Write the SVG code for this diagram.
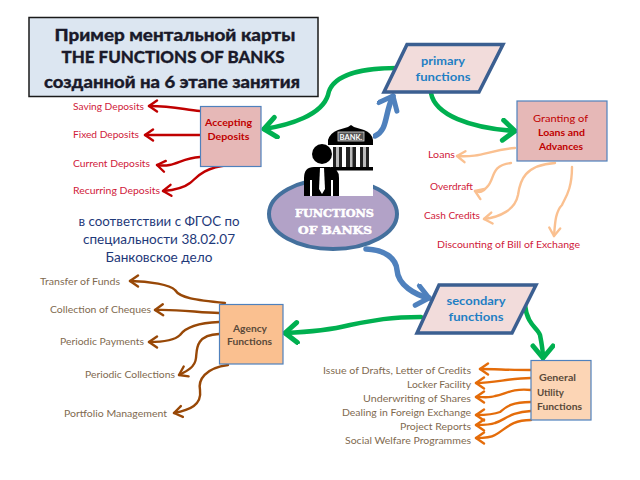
<svg xmlns="http://www.w3.org/2000/svg" width="640" height="480" viewBox="0 0 640 480">
<style>
text{font-family:Lato,"Liberation Sans",sans-serif}
.c{fill:none;stroke-linecap:round;stroke-linejoin:round}
.g{stroke:#00b050;stroke-width:4.500}
.b{stroke:#4f81bd;stroke-width:5.500}
.r{stroke:#c00000;stroke-width:2.400}
.p{stroke:#fac090;stroke-width:2.400}
.w{stroke:#984807;stroke-width:2.400}
.o{stroke:#e46c0a;stroke-width:2.400}
.para{fill:#f2dcdb;stroke:#3b5f91;stroke-width:3.500;stroke-linejoin:miter}
.box{stroke:#4f81bd;stroke-width:1.200}
.pt{font-size:12px;font-weight:700;fill:#1f7fc4;text-anchor:middle}
.rl{font-size:9.500px;fill:#d0203a}
.rb{font-size:9.500px;font-weight:700;fill:#c00000;text-anchor:middle}
.gr{font-size:9.500px;fill:#7f6a50}
.gb{font-size:9.500px;font-weight:700;fill:#5a4a3a}
.tt{font-size:17px;font-weight:900;fill:#1a1a2a;stroke:#1a1a2a;stroke-width:.3;text-anchor:middle}
.mid{font-size:12.500px;fill:#1f3a7a;text-anchor:middle}
.fn{font-family:"DejaVu Serif",serif;font-size:11px;font-weight:700;fill:#fff;stroke:#fff;stroke-width:.5;text-anchor:middle}
</style>
<defs>
<marker id="mg" markerUnits="userSpaceOnUse" markerWidth="28" markerHeight="28" refX="20" refY="12" orient="auto"><path d="M8 2 L20 12 L8 22" fill="none" stroke="#00b050" stroke-width="5" stroke-linecap="round" stroke-linejoin="round"/></marker>
<marker id="mb" markerUnits="userSpaceOnUse" markerWidth="28" markerHeight="28" refX="20" refY="12" orient="auto"><path d="M8 2 L20 12 L8 22" fill="none" stroke="#4f81bd" stroke-width="5" stroke-linecap="round" stroke-linejoin="round"/></marker>
<marker id="mr" markerUnits="userSpaceOnUse" markerWidth="16" markerHeight="16" refX="11" refY="7" orient="auto"><path d="M3 1.500 L11 7 L3 12.500" fill="none" stroke="#c00000" stroke-width="2.400" stroke-linecap="round" stroke-linejoin="round"/></marker>
<marker id="mp" markerUnits="userSpaceOnUse" markerWidth="16" markerHeight="16" refX="11" refY="7" orient="auto"><path d="M3 1.500 L11 7 L3 12.500" fill="none" stroke="#fac090" stroke-width="2.400" stroke-linecap="round" stroke-linejoin="round"/></marker>
<marker id="mw" markerUnits="userSpaceOnUse" markerWidth="16" markerHeight="16" refX="11" refY="7" orient="auto"><path d="M3 1.500 L11 7 L3 12.500" fill="none" stroke="#984807" stroke-width="2.400" stroke-linecap="round" stroke-linejoin="round"/></marker>
<marker id="mo" markerUnits="userSpaceOnUse" markerWidth="16" markerHeight="16" refX="11" refY="7" orient="auto"><path d="M3 1.500 L11 7 L3 12.500" fill="none" stroke="#e46c0a" stroke-width="2.400" stroke-linecap="round" stroke-linejoin="round"/></marker>
</defs>
<rect width="640" height="480" fill="#fff"/>

<g id="connectors">
<g class="c g">
<path marker-end="url(#mg)" d="M397 68 C370 68 332 72 328 95 C322 115 290 125 264 129"/>
<path marker-end="url(#mg)" d="M431 93 C435 115 470 128 515 131"/>
<path marker-end="url(#mg)" d="M421 317 C390 317 375 320 350 325 C330 330 310 332 285 333"/>
<path marker-end="url(#mg)" d="M525 305 C527 325 538 328 540 335 C542 345 543 350 543 358"/>
</g>
<g class="c b">
<path marker-end="url(#mb)" d="M375 136 C388 130 384 115 393 96"/>
<path marker-end="url(#mb)" d="M366 249 C385 250 396 258 397 270 C398 285 415 295 429 298"/>
</g>
<g class="c r">
<path marker-end="url(#mr)" d="M200 111 C185 110 175 106 149 106"/>
<path marker-end="url(#mr)" d="M200 135 L145 135"/>
<path marker-end="url(#mr)" d="M200 157 C180 158 175 168 157 165"/>
<path marker-end="url(#mr)" d="M229 165 C200 168 195 180 190 183 C185 187 175 190 163 191"/>
</g>
<g class="c p">
<path marker-end="url(#mp)" d="M515 148 C490 150 480 158 457 156"/>
<path marker-end="url(#mp)" d="M511 163 C490 165 495 180 487 187 C483 192 480 193 475 191"/>
<path marker-end="url(#mp)" d="M555 163 C525 165 520 180 518 195 C515 210 500 217 484 219"/>
<path marker-end="url(#mp)" d="M572 167 C572 190 565 198 562 205 C555 212 555 225 554 236"/>
</g>
<g class="c w">
<path marker-end="url(#mw)" d="M225 303 C195 300 180 298 175 290 C170 285 150 281 130 281"/>
<path marker-end="url(#mw)" d="M219 313 C200 313 180 309 155 310"/>
<path marker-end="url(#mw)" d="M219 322 C195 323 185 328 180 335 C175 340 165 342 149 342"/>
<path marker-end="url(#mw)" d="M219 334 C195 335 197 350 196 358 C195 368 185 372 179 375"/>
<path marker-end="url(#mw)" d="M228 365 C205 368 198 380 200 390 C202 405 190 410 174 413"/>
</g>
<g class="c o">
<path marker-end="url(#mo)" d="M531 370 C510 370 495 369 480 369"/>
<path marker-end="url(#mo)" d="M531 378 C510 378 495 383 476 383"/>
<path marker-end="url(#mo)" d="M531 390 C510 388 505 395 495 396 C490 398 485 397 476 397"/>
<path marker-end="url(#mo)" d="M531 402 C510 402 505 408 500 412 C495 414 485 415 476 415"/>
<path marker-end="url(#mo)" d="M531 411 C510 412 505 420 495 423 C490 425 482 425 476 425"/>
<path marker-end="url(#mo)" d="M531 420 C510 420 505 430 495 435 C490 438 483 438 476 438"/>
</g>
</g>

<g id="title">
<rect x="29" y="17.500" width="289" height="79" fill="#dce6f1" stroke="#1a1a1a" stroke-width="1.500"/>
<text class="tt" x="175" y="41" textLength="241" lengthAdjust="spacingAndGlyphs">Пример ментальной  карты</text>
<text class="tt" x="173" y="63" textLength="223" lengthAdjust="spacingAndGlyphs">THE FUNCTIONS OF BANKS</text>
<text class="tt" x="172" y="88" textLength="256" lengthAdjust="spacingAndGlyphs">созданной на 6 этапе занятия</text>
</g>

<g id="standard-note">
<text class="mid" x="159" y="226" textLength="161" lengthAdjust="spacingAndGlyphs">в соответствии с ФГОС  по</text>
<text class="mid" x="159" y="244" textLength="152" lengthAdjust="spacingAndGlyphs">специальности 38.02.07</text>
<text class="mid" x="159" y="262" textLength="107" lengthAdjust="spacingAndGlyphs">Банковское дело</text>
</g>

<g id="functions-of-banks">
<ellipse cx="333" cy="214" rx="64" ry="35" fill="#b2a2c7" stroke="#44709d" stroke-width="4"/>
<rect x="304" y="125" width="69" height="71" fill="#fff"/>
<text class="fn" x="334.500" y="217" textLength="79" lengthAdjust="spacingAndGlyphs">FUNCTIONS</text>
<text class="fn" x="335" y="234" textLength="74" lengthAdjust="spacingAndGlyphs">OF BANKS</text>
</g>

<g id="bank-icon">
<path d="M328 145 V140 Q330 133 338 130 L348 127 L351 125 L354 127 L364 130 Q372 133 373 140 V145 Z" fill="#000"/>
<rect x="338" y="132" width="26" height="9" fill="#555" stroke="#ddd" stroke-width=".8"/>
<text x="351" y="139.500" font-size="7.500" font-weight="700" fill="#fff" text-anchor="middle">BANK.</text>
<path d="M333 147h9v20h-9zM346 147h10v20h-10zM360 147h9v20h-9z" fill="#222"/>
<path d="M336 147h3v20h-3zM350 147h2.500v20h-2.500zM363 147h3v20h-3z" fill="#bbb"/>
<rect x="331" y="167" width="42" height="3.500" fill="#000"/>
<circle cx="322" cy="154" r="10" fill="#000"/>
<path d="M304 196 V178 Q304 167 314 167 H330 Q339 168 339 178 V196 H333 V180 H331 V196 H312 V180 H310 V196 Z" fill="#000"/>
<path d="M320 168 H324 L325 189 L322 194 L319 189 Z" fill="#fff"/>
</g>

<g id="primary-functions">
<polygon class="para" points="407,44.500 503,44.500 479,92 384,92"/>
<text class="pt" x="443" y="65" textLength="44" lengthAdjust="spacingAndGlyphs">primary</text>
<text class="pt" x="443" y="81" textLength="55" lengthAdjust="spacingAndGlyphs">functions</text>
</g>

<g id="secondary-functions">
<polygon class="para" points="439,285 536,285 512,333 417,333"/>
<text class="pt" x="476" y="305" textLength="59" lengthAdjust="spacingAndGlyphs">secondary</text>
<text class="pt" x="476" y="321" textLength="55" lengthAdjust="spacingAndGlyphs">functions</text>
</g>

<g id="accepting-deposits">
<rect class="box" x="200.500" y="106.500" width="60.500" height="60" fill="#e6b8b7"/>
<text class="rb" x="228.500" y="126" textLength="47" lengthAdjust="spacingAndGlyphs">Accepting</text>
<text class="rb" x="228.500" y="140" textLength="42" lengthAdjust="spacingAndGlyphs">Deposits</text>
</g>
<g id="granting">
<rect class="box" x="517" y="101" width="90" height="60" fill="#e6b8b7"/>
<text class="rb" x="560.500" y="122" style="font-weight:400" textLength="55" lengthAdjust="spacingAndGlyphs">Granting of</text>
<text class="rb" x="561.500" y="136" textLength="47" lengthAdjust="spacingAndGlyphs">Loans and</text>
<text class="rb" x="561" y="150" textLength="44" lengthAdjust="spacingAndGlyphs">Advances</text>
</g>
<g id="agency-functions">
<rect class="box" x="219.500" y="304.500" width="63.500" height="59.500" fill="#fac090"/>
<text class="gb" x="233" y="332" textLength="34" lengthAdjust="spacingAndGlyphs">Agency</text>
<text class="gb" x="227" y="345" textLength="45" lengthAdjust="spacingAndGlyphs">Functions</text>
</g>
<g id="general-utility-functions">
<rect class="box" x="531" y="360.500" width="60" height="59.500" fill="#fcd5b5"/>
<text class="gb" x="539" y="381" textLength="37" lengthAdjust="spacingAndGlyphs">General</text>
<text class="gb" x="537" y="396" textLength="27" lengthAdjust="spacingAndGlyphs">Utility</text>
<text class="gb" x="537" y="410" textLength="45" lengthAdjust="spacingAndGlyphs">Functions</text>
</g>

<g id="deposit-labels" class="rl">
<text x="73" y="110" textLength="71" lengthAdjust="spacingAndGlyphs">Saving Deposits</text>
<text x="73" y="138" textLength="66" lengthAdjust="spacingAndGlyphs">Fixed Deposits</text>
<text x="73" y="167" textLength="77" lengthAdjust="spacingAndGlyphs">Current Deposits</text>
<text x="73" y="194" textLength="87" lengthAdjust="spacingAndGlyphs">Recurring Deposits</text>
</g>
<g id="loan-labels" class="rl">
<text x="428" y="158" textLength="27" lengthAdjust="spacingAndGlyphs">Loans</text>
<text x="430" y="190" textLength="43" lengthAdjust="spacingAndGlyphs">Overdraft</text>
<text x="424" y="219" textLength="56" lengthAdjust="spacingAndGlyphs">Cash Credits</text>
<text x="437" y="248" textLength="143" lengthAdjust="spacingAndGlyphs">Discounting of Bill of Exchange</text>
</g>
<g id="agency-labels" class="gr">
<text x="40" y="285" textLength="80" lengthAdjust="spacingAndGlyphs">Transfer of Funds</text>
<text x="50" y="313" textLength="101" lengthAdjust="spacingAndGlyphs">Collection of Cheques</text>
<text x="60" y="345" textLength="84" lengthAdjust="spacingAndGlyphs">Periodic Payments</text>
<text x="85" y="378" textLength="90" lengthAdjust="spacingAndGlyphs">Periodic Collections</text>
<text x="64" y="417" textLength="103" lengthAdjust="spacingAndGlyphs">Portfolio Management</text>
</g>
<g id="utility-labels" class="gr">
<text x="323" y="374" textLength="148" lengthAdjust="spacingAndGlyphs">Issue of Drafts, Letter of Credits</text>
<text x="407" y="388" textLength="64" lengthAdjust="spacingAndGlyphs">Locker Facility</text>
<text x="363" y="402" textLength="108" lengthAdjust="spacingAndGlyphs">Underwriting of Shares</text>
<text x="342" y="416" textLength="129" lengthAdjust="spacingAndGlyphs">Dealing in Foreign Exchange</text>
<text x="400" y="430" textLength="71" lengthAdjust="spacingAndGlyphs">Project Reports</text>
<text x="345" y="444" textLength="126" lengthAdjust="spacingAndGlyphs">Social Welfare Programmes</text>
</g>
</svg>
